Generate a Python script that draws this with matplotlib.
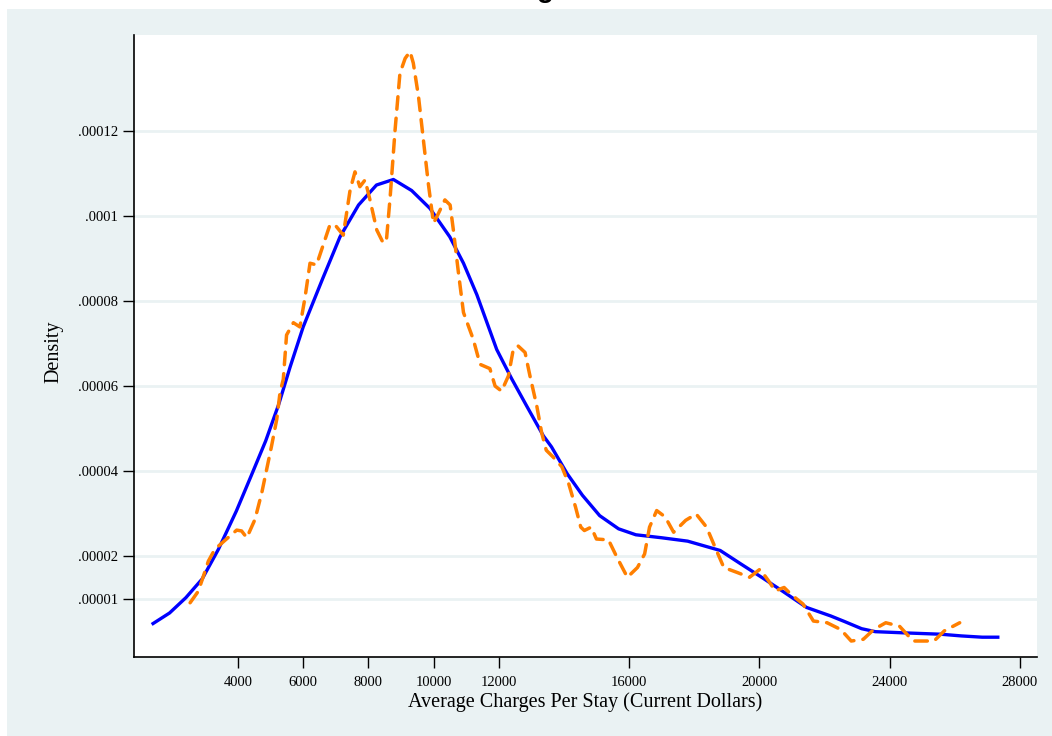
#!/usr/bin/env python3
import numpy as np
import matplotlib.pyplot as plt
from matplotlib.patches import Rectangle
plt.switch_backend('agg')

# kernel density (smooth, solid blue)
kde_x = [1350, 1900, 2400, 2900, 3400, 3950, 4400, 4850, 5250, 5600,
         6000, 6600, 7130, 7700, 8250, 8770, 9330, 9890, 10500, 10920,
         11330, 11940, 12400, 12860, 13370, 13620, 14100, 14570, 15100, 15680,
         16210, 17000, 17800, 18800, 19440, 20070, 20700, 21450, 22190, 22610,
         23140, 23560, 24510, 25570, 26200, 26840, 27370]
kde_y = [3.9, 6.6, 10.2, 14.6, 21.6, 30.6, 38.8, 47.1, 55.7, 64.5,
         73.9, 85.3, 95.1, 102.6, 107.3, 108.6, 106.0, 101.8, 95.1, 88.9,
         81.5, 68.6, 61.7, 55.3, 48.3, 45.7, 39.4, 34.3, 29.5, 26.4,
         25.0, 24.3, 23.5, 21.3, 18.1, 15.0, 11.8, 7.9, 5.9, 4.6,
         2.9, 2.2, 1.9, 1.6, 1.2, 0.9, 0.9]

# narrow bandwidth density (dashed orange)
nb_x = [2530, 2780, 2940, 3090, 3290, 3750, 3960, 4110, 4270, 4520,
        4730, 4880, 5030, 5190, 5290, 5390, 5490, 5700, 5900, 6060,
        6210, 6410, 6820, 6980, 7230, 7440, 7590, 7740, 7900, 8050,
        8260, 8460, 8560, 8670, 8820, 8970, 9130, 9280, 9380, 9540,
        9690, 9840, 10000, 10150, 10350, 10510, 10610, 10760, 10920, 11220,
        11430, 11730, 11890, 12090, 12300, 12450, 12600, 12810, 12960, 13170,
        13320, 13460, 13670, 13940, 14150, 14360, 14520, 14630, 14840, 15000,
        15370, 15630, 15950, 16260, 16480, 16630, 16850, 17110, 17370, 17740,
        18060, 18380, 18640, 18910, 19330, 19700, 20020, 20280, 20490, 20760,
        20970, 21340, 21660, 22080, 22500, 22820, 23190, 23510, 23880, 24300,
        24720, 25360, 25680, 26150]
nb_y = [9.0, 11.7, 15.3, 18.8, 21.6, 24.7, 26.1, 25.9, 24.3, 28.6,
        34.9, 40.4, 45.9, 52.2, 58.5, 61.6, 72.0, 74.9, 73.9, 81.0,
        88.9, 88.5, 97.9, 97.9, 95.5, 106.1, 110.4, 106.9, 108.5, 103.8,
        96.7, 93.6, 94.7, 104.5, 120.2, 133.6, 137.1, 138.7, 136.0, 128.1,
        117.9, 107.7, 98.3, 100.6, 103.8, 102.6, 96.7, 87.0, 77.3, 71.0,
        65.1, 64.1, 60.0, 58.8, 62.4, 68.7, 69.4, 67.9, 62.4, 55.3,
        49.0, 44.9, 43.3, 41.0, 37.0, 31.5, 26.8, 26.0, 26.8, 24.0,
        23.8, 19.7, 15.0, 17.3, 20.5, 26.8, 30.7, 29.2, 25.6, 28.4,
        29.9, 26.8, 22.1, 17.3, 16.1, 15.0, 16.9, 14.2, 11.8, 12.6,
        11.0, 8.7, 4.7, 4.3, 2.7, 0.0, 0.4, 2.7, 4.3, 3.5,
        0.0, 0.0, 2.4, 4.3]

xticks = [4000, 6000, 8000, 10000, 12000, 16000, 20000, 24000, 28000]
yticks = [0.00001, 0.00002, 0.00004, 0.00006, 0.00008, 0.0001, 0.00012]
ytick_labels = ['.00001', '.00002', '.00004', '.00006', '.00008', '.0001', '.00012']

BG = '#EAF2F3'
SERIF = ['Liberation Serif', 'DejaVu Serif']


def main():
    W, H = 1052, 736
    fig = plt.figure(figsize=(W / 100, H / 100), dpi=100)
    fig.patch.set_facecolor('white')
    fig.add_artist(Rectangle((7 / W, 0), 1, 1 - 9 / H, transform=fig.transFigure,
                             facecolor=BG, edgecolor='none', zorder=-10))

    # bit of the title that shows at the top edge
    fig.text(545.5 / W, 1 + 3.0 / H, 'g', ha='center', va='baseline',
             fontsize=20, fontweight='bold', family=['Liberation Sans', 'DejaVu Sans'])

    left, right, top, bottom = 134, 1037, 35, 657
    ax = fig.add_axes([left / W, 1 - bottom / H, (right - left) / W, (bottom - top) / H])
    ax.set_facecolor('white')

    ax.plot(kde_x, np.array(kde_y) * 1e-6, color='#0000FF', lw=2.4,
            solid_joinstyle='round', solid_capstyle='butt', zorder=3)
    ax.plot(nb_x, np.array(nb_y) * 1e-6, color='#FF7F00', lw=2.5,
            linestyle=(0, (3.6, 2.6)), dash_capstyle='round',
            dash_joinstyle='round', zorder=4)

    ax.set_xlim(808, 28522)
    ax.set_ylim(-3.76e-6, 142.6e-6)

    ax.set_xticks(xticks)
    ax.set_xticklabels([str(t) for t in xticks], family=SERIF, fontsize=10.5)
    ax.set_yticks(yticks)
    ax.set_yticklabels(ytick_labels, family=SERIF, fontsize=10.5)
    ax.tick_params(axis='x', length=8, width=1.0, pad=6, direction='out')
    ax.tick_params(axis='y', length=8, width=1.0, pad=3.5, direction='out')

    ax.yaxis.grid(True, color=BG, lw=2.0)
    ax.set_axisbelow(True)

    for s in ['top', 'right']:
        ax.spines[s].set_visible(False)
    for s in ['left', 'bottom']:
        ax.spines[s].set_linewidth(1.2)
        ax.spines[s].set_color('black')

    ax.set_xlabel('Average Charges Per Stay (Current Dollars)', family=SERIF,
                  fontsize=14.5, va='baseline')
    ax.xaxis.set_label_coords(0.5, -(707 - bottom) / (bottom - top))
    ax.set_ylabel('Density', family=SERIF, fontsize=14.5)
    ax.yaxis.set_label_coords(-(left - 63) / (right - left), 0.49)

    fig.savefig('out.png', dpi=100, facecolor=fig.get_facecolor())


if __name__ == '__main__':
    main()
